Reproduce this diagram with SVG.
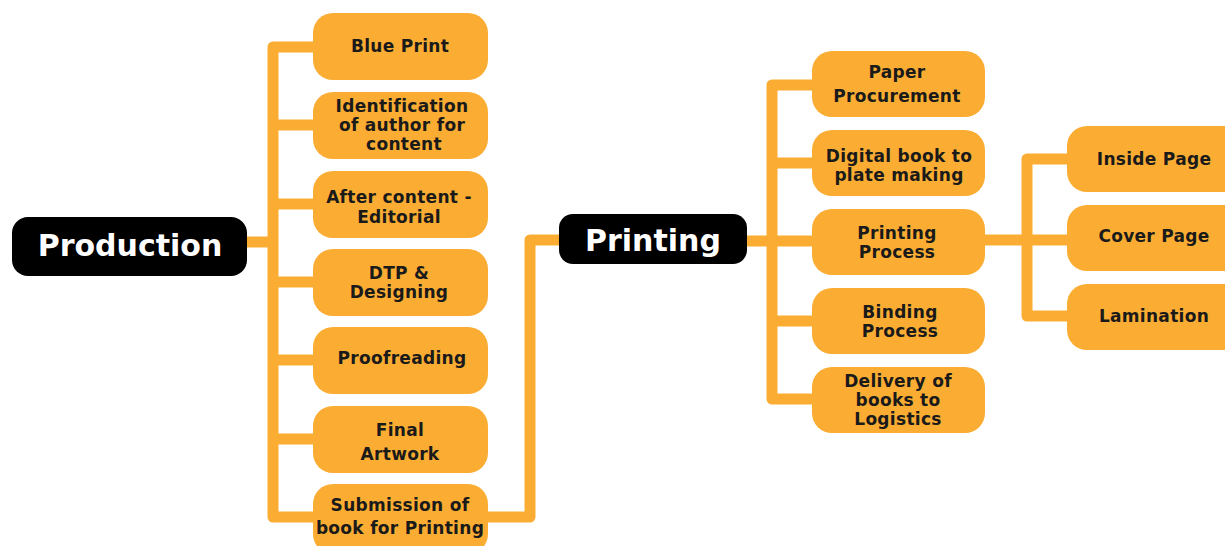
<svg xmlns="http://www.w3.org/2000/svg" width="1225" height="546" viewBox="0 0 1225 546">
<style>
.conn{fill:none;stroke:#FBAD33;stroke-width:11;stroke-linejoin:round;stroke-linecap:butt}
.box{fill:#FBAD33}
.root{fill:#000}
.t{font-family:"DejaVu Sans",sans-serif;font-weight:bold;font-size:17px;letter-spacing:0.3px;fill:#1a1a1a;text-anchor:middle;dominant-baseline:central}
.rt{font-family:"DejaVu Sans",sans-serif;font-weight:bold;font-size:30px;fill:#fff;text-anchor:middle;dominant-baseline:central}
</style>
<rect width="1225" height="546" fill="#fff"/>
<g id="connectors">
<path class="conn" d="M313 47 H273 V517 H530 V240 H559"/>
<path class="conn" d="M247 242 H273"/>
<path class="conn" d="M273 125 H313 M273 204 H313 M273 282 H313 M273 360 H313 M273 439 H313"/>
<path class="conn" d="M812 85 H772 V399 H812"/>
<path class="conn" d="M747 241 H812 M772 163 H812 M772 321 H812"/>
<path class="conn" d="M1067 159 H1027 V316 H1067"/>
<path class="conn" d="M985 240 H1067"/>
</g>
<g id="production"><rect class="root" x="12" y="217" width="235" height="59" rx="16"/><text class="rt" x="130" y="245">Production</text></g>
<g id="blue-print"><rect class="box" x="313" y="13" width="175" height="67" rx="20"/><text class="t" x="400" y="46">Blue Print</text></g>
<g id="identification"><rect class="box" x="313" y="92" width="175" height="67" rx="20"/><text class="t" x="402" y="106">Identification</text><text class="t" x="402" y="125">of author for</text><text class="t" x="404" y="144">content</text></g>
<g id="editorial"><rect class="box" x="313" y="171" width="175" height="67" rx="20"/><text class="t" x="399" y="197">After content -</text><text class="t" x="399" y="217">Editorial</text></g>
<g id="dtp"><rect class="box" x="313" y="249" width="175" height="67" rx="20"/><text class="t" x="399" y="273">DTP &amp;</text><text class="t" x="399" y="292">Designing</text></g>
<g id="proofreading"><rect class="box" x="313" y="327" width="175" height="67" rx="20"/><text class="t" x="402" y="358">Proofreading</text></g>
<g id="final-artwork"><rect class="box" x="313" y="406" width="175" height="67" rx="20"/><text class="t" x="400" y="430">Final</text><text class="t" x="400" y="454">Artwork</text></g>
<g id="submission"><rect class="box" x="313" y="484" width="175" height="70" rx="20"/><text class="t" x="400" y="505">Submission of</text><text class="t" x="400" y="528">book for Printing</text></g>
<g id="printing"><rect class="root" x="559" y="214" width="188" height="50" rx="14"/><text class="rt" x="653" y="240">Printing</text></g>
<g id="paper"><rect class="box" x="812" y="51" width="173" height="66" rx="20"/><text class="t" x="897" y="72">Paper</text><text class="t" x="897" y="96">Procurement</text></g>
<g id="digital"><rect class="box" x="812" y="130" width="173" height="66" rx="20"/><text class="t" x="899" y="156">Digital book to</text><text class="t" x="899" y="175">plate making</text></g>
<g id="printing-process"><rect class="box" x="812" y="209" width="173" height="66" rx="20"/><text class="t" x="897" y="233">Printing</text><text class="t" x="897" y="252">Process</text></g>
<g id="binding"><rect class="box" x="812" y="288" width="173" height="66" rx="20"/><text class="t" x="900" y="312">Binding</text><text class="t" x="900" y="331">Process</text></g>
<g id="delivery"><rect class="box" x="812" y="367" width="173" height="66" rx="20"/><text class="t" x="898" y="381">Delivery of</text><text class="t" x="898" y="400">books to</text><text class="t" x="898" y="419">Logistics</text></g>
<g id="inside-page"><rect class="box" x="1067" y="126" width="178" height="66" rx="20"/><text class="t" x="1154" y="159">Inside Page</text></g>
<g id="cover-page"><rect class="box" x="1067" y="205" width="178" height="66" rx="20"/><text class="t" x="1154" y="236">Cover Page</text></g>
<g id="lamination"><rect class="box" x="1067" y="284" width="178" height="66" rx="20"/><text class="t" x="1154" y="316">Lamination</text></g>
</svg>
